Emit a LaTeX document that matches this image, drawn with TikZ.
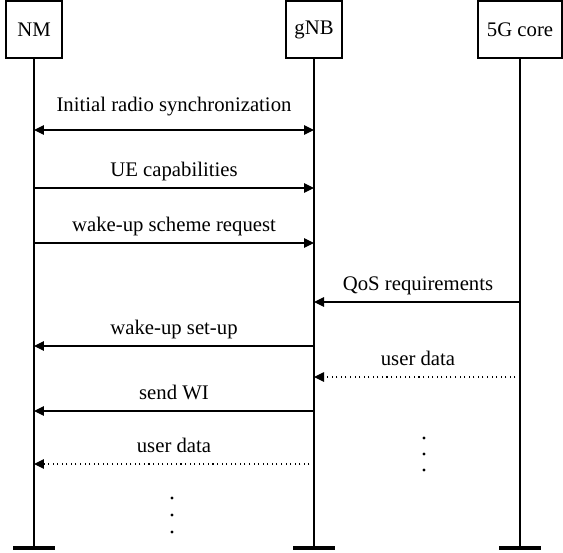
\documentclass[tikz,border=0pt]{standalone}
\usepackage{fontspec}
\setmainfont{Liberation Serif}
\usetikzlibrary{arrows.meta,calc}

\begin{document}
\begin{tikzpicture}[x=0.02cm,y=-0.02cm,font=\fontsize{11.8}{14}\selectfont,
	ent/.style={draw,line width=0.6pt,minimum height=1.14cm,inner sep=0pt},
	msg/.style={line width=0.6pt,-{Triangle[length=0.2cm,width=0.19cm]}},
	msgboth/.style={line width=0.6pt,{Triangle[length=0.2cm,width=0.19cm]}-{Triangle[length=0.2cm,width=0.19cm]}},
	lbl/.style={anchor=base,inner sep=0pt}]
	\useasboundingbox (0,0) rectangle (563,552);
	
	\node[ent,minimum width=1.12cm] (nm) at (34,29.5) {NM};
	\node[ent,minimum width=1.12cm] (gnb) at (314,29.5) {gNB};
	\node[ent,minimum width=1.68cm] (core) at (520,29.5) {5G core};
	
	\coordinate (nmend) at (nm.south |- 0,548);
	\coordinate (gnbend) at (gnb.south |- 0,548);
	\coordinate (coreend) at (core.south |- 0,548);
	
	\draw[line width=0.6pt] (nm.south) -- (nmend);
	\draw[line width=0.6pt] (gnb.south) -- (gnbend);
	\draw[line width=0.6pt] (core.south) -- (coreend);
	
	\draw[line width=2.3pt] ($(nmend)+(-21,0)$) -- ($(nmend)+(21,0)$);
	\draw[line width=2.3pt] ($(gnbend)+(-21,0)$) -- ($(gnbend)+(21,0)$);
	\draw[line width=2.3pt] ($(coreend)+(-21,0)$) -- ($(coreend)+(21,0)$);
	
	% NM <-> gNB
	\draw[msgboth] (nm.south |- 0,130) -- (gnb.south |- 0,130);
	\node[lbl] (l1) at (174,111) {Initial radio synchronization};
	\draw[msg] (nm.south |- 0,188) -- (gnb.south |- 0,188);
	\node[lbl] (l2) at (174,176) {UE capabilities};
	\draw[msg] (nm.south |- 0,243) -- (gnb.south |- 0,243);
	\node[lbl] (l3) at (174,231) {wake-up scheme request};
	
	% core -> gNB
	\draw[msg] (core.south |- 0,302) -- (gnb.south |- 0,302);
	\node[lbl] (l4) at (418,290) {QoS requirements};
	\draw[msg] (gnb.south |- 0,346) -- (nm.south |- 0,346);
	\node[lbl] (l5) at (174,334) {wake-up set-up};
	\draw[msg,dotted] (core.south |- 0,377) -- (gnb.south |- 0,377);
	\node[lbl] (l6) at (418,365) {user data};
	\draw[msg] (gnb.south |- 0,411) -- (nm.south |- 0,411);
	\node[lbl] (l7) at (174,399) {send WI};
	\draw[msg,dotted] (gnb.south |- 0,464) -- (nm.south |- 0,464);
	\node[lbl] (l8) at (174,452) {user data};
	
	\foreach \y in {438,454,470} \fill (424,\y) circle (1.6);
	\foreach \y in {498,515,532} \fill (172,\y) circle (1.6);
\end{tikzpicture}
\end{document}
